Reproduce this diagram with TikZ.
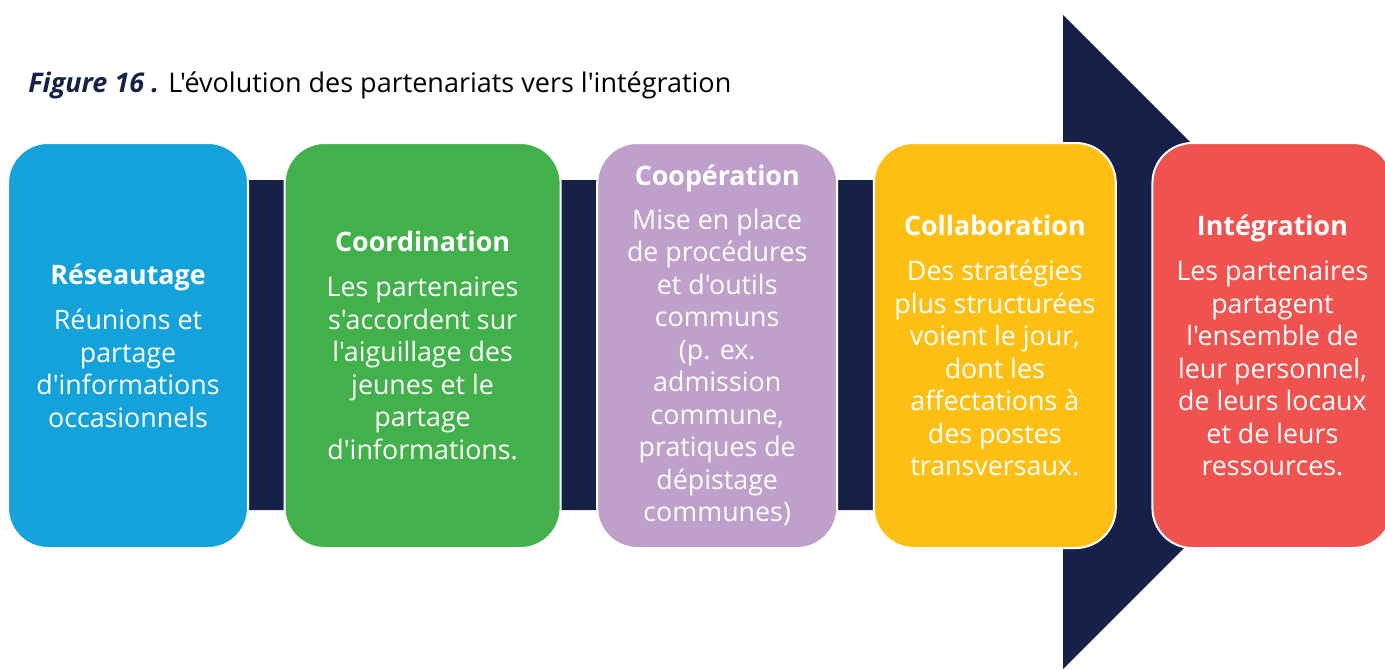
\documentclass[tikz,border=0pt]{standalone}
\usepackage{fontspec}
\setmainfont{Open Sans}[Ligatures=TeXOff]
\usepackage{xcolor}
\usetikzlibrary{positioning}

\definecolor{navy}{HTML}{172147}
\definecolor{stageblue}{HTML}{13A3DA}
\definecolor{stagegreen}{HTML}{43B14B}
\definecolor{stagepurple}{HTML}{BFA0CB}
\definecolor{stageyellow}{HTML}{FDBF12}
\definecolor{stagered}{HTML}{F0534F}

\begin{document}
\begin{tikzpicture}[
  x=0.5pt, y=-0.5pt,
  font=\fontsize{13.4}{16.25}\selectfont,
  stage/.style={draw=white, line width=1pt, rounded corners=20pt,
    minimum width=120pt, minimum height=202.5pt, inner sep=0pt,
    text=white, align=center},
  node distance=17.3pt,
]

% ---- 0. page frame ----
\useasboundingbox (0,0) rectangle (1385,669);
\clip (0,0) rectangle (1385,669);

% ---- 1. big arrow behind the boxes (shaft + head) ----
\pgfmathsetmacro{\shT}{180}     % shaft top
\pgfmathsetmacro{\shB}{510}     % shaft bottom
\pgfmathsetmacro{\hdX}{1063}    % back of the arrow head
\coordinate (headTop) at (\hdX, 15);
\coordinate (headTip) at (1390, 342);
\coordinate (headBot) at (\hdX, 669);
\fill[navy] (20,\shT) -- (\hdX,\shT) -- (headTop) -- (headTip)
  -- (headBot) -- (\hdX,\shB) -- (20,\shB) -- cycle;

% ---- 2. title ----
\node[anchor=base west, inner sep=0pt, font=\fontsize{13.5}{16}\selectfont] (title) at (28,92)
  {\textcolor{navy}{\bfseries\itshape Figure 16 .} L'évolution des partenariats vers l'intégration};

% ---- 3. the five stages ----
\node[stage, fill=stageblue] (reseau) at (128,345.5)
  {\textbf{Réseautage}\\[6.5pt]
   Réunions et\\ partage\\ d'informations\\ occasionnels};

\node[stage, fill=stagegreen, minimum width=138pt, right=of reseau] (coord)
  {\textbf{Coordination}\\[6.5pt]
   Les partenaires\\ s'accordent sur\\ l'aiguillage des\\ jeunes et le\\ partage\\ d'informations.};

\node[stage, fill=stagepurple, right=of coord] (coop)
  {\textbf{Coopération}\\[5.5pt]
   Mise en place\\ de procédures\\ et d'outils\\ communs\\ (p. ex.\\ admission\\ commune,\\ pratiques de\\ dépistage\\ communes)};

\node[stage, fill=stageyellow, minimum width=121pt, right=of coop] (collab)
  {\textbf{Collaboration}\\[6.5pt]
   Des stratégies\\ plus structurées\\ voient le jour,\\ dont les\\ affectations à\\ des postes\\ transversaux.};

\node[stage, fill=stagered, right=of collab] (integ)
  {\textbf{Intégration}\\[6.5pt]
   Les partenaires\\ partagent\\ l'ensemble de\\ leur personnel,\\ de leurs locaux\\ et de leurs\\ ressources.};

\end{tikzpicture}
\end{document}
